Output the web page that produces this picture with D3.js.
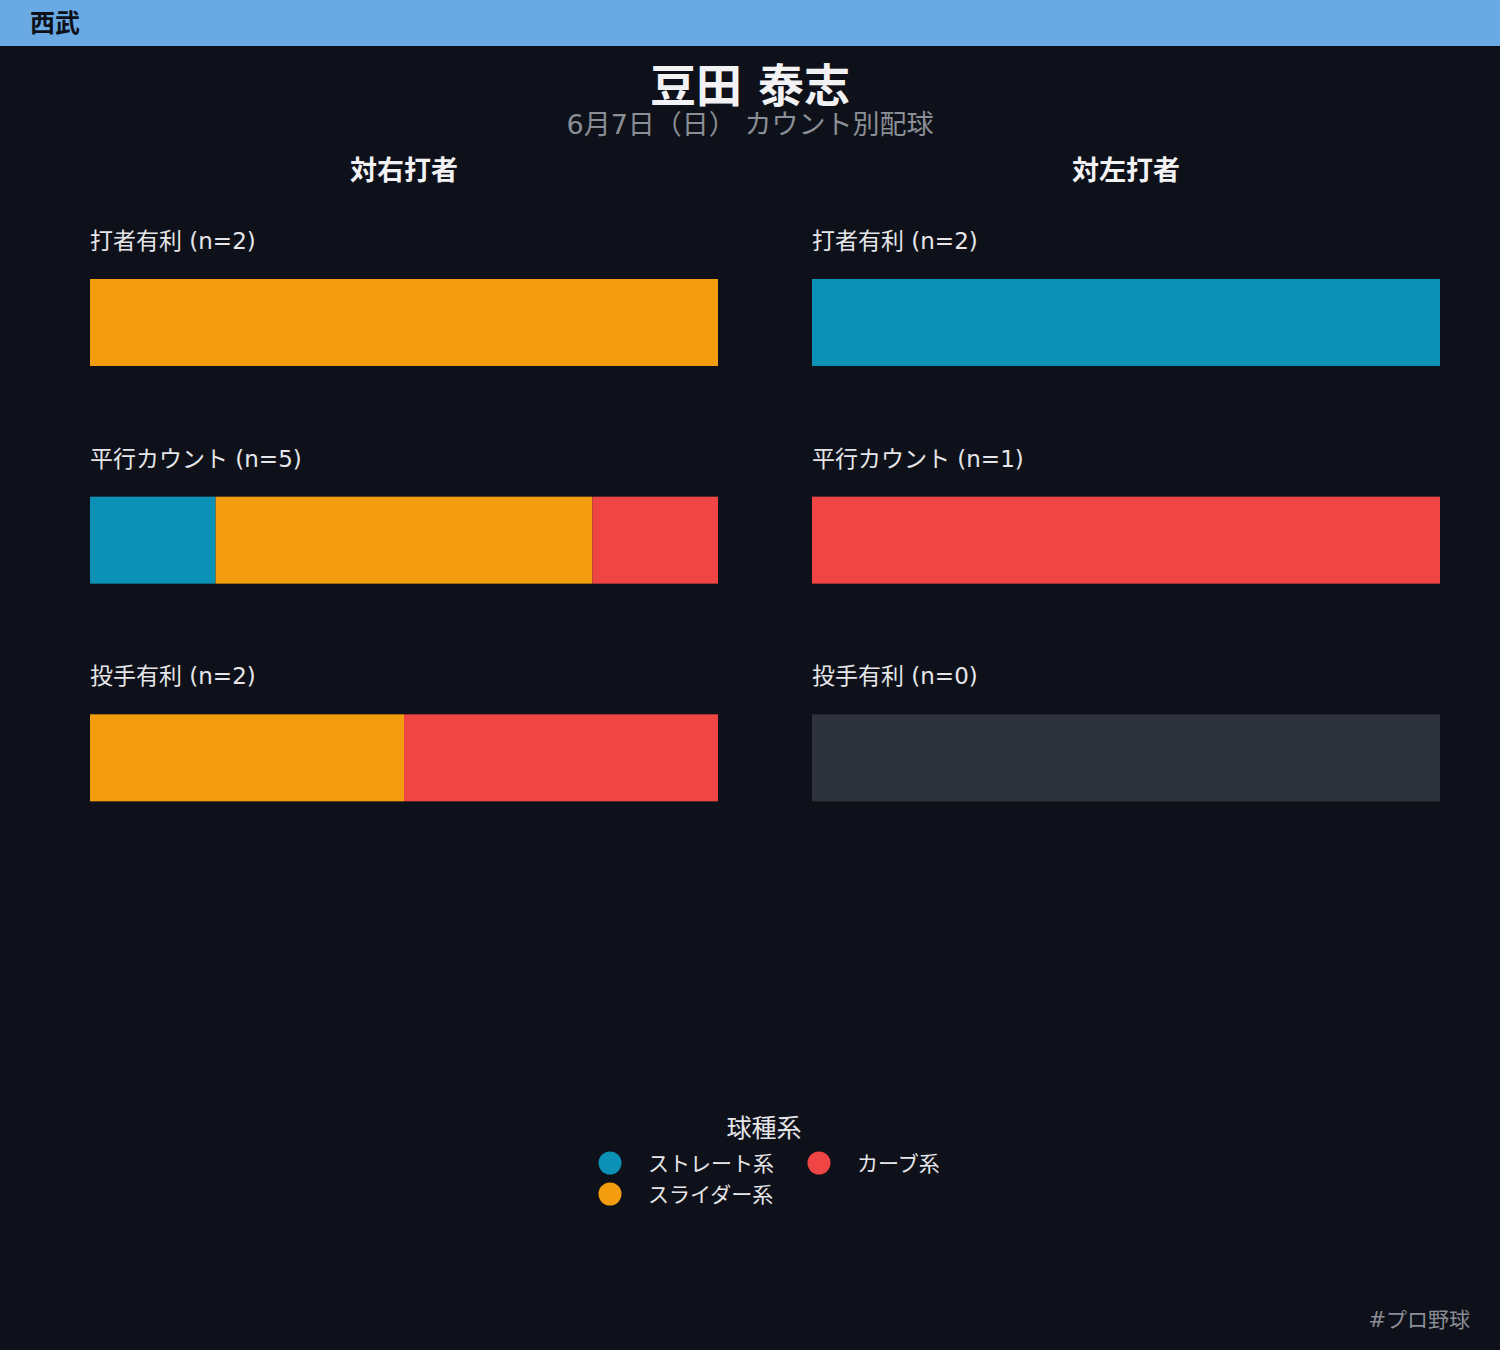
<!DOCTYPE html>
<html><head><meta charset="utf-8">
<script src="https://cdn.jsdelivr.net/npm/d3@7"></script>
<style>
html,body{margin:0;padding:0;background:#0e1119;}
svg{display:block;font-family:"DejaVu Sans","Noto Sans CJK JP",sans-serif;}
</style></head>
<body>
<script>
const team = "西武";
const pitcher = "豆田 泰志";
const subtitle = "6月7日（日） カウント別配球";
const panels = ["対右打者", "対左打者"];
const countLabels = ["打者有利", "平行カウント", "投手有利"];
const pitchTypes = ["ストレート系", "スライダー系", "カーブ系"];
const pitchColors = ["#0a91b5", "#f39c0e", "#ef4545"];
// counts per pitch type [straight, slider, curve] per situation
const vsRight = [[0, 2, 0], [1, 3, 1], [0, 1, 1]];
const vsLeft = [[2, 0, 0], [0, 0, 1], [0, 0, 0]];
const legendTitle = "球種系";
const footer = "#プロ野球";

const W = 1500, H = 1350;
const svg = d3.select("body").append("svg").attr("width", W).attr("height", H);
svg.append("rect").attr("width", W).attr("height", H).attr("fill", "#0e1119");
svg.append("rect").attr("width", W).attr("height", 46).attr("fill", "#6aaae4");
svg.append("text").attr("x", 30).attr("y", 32).attr("font-size", 25).attr("font-weight", "bold")
  .attr("fill", "#0e1119").text(team);

svg.append("text").attr("x", 750).attr("y", 102).attr("text-anchor", "middle")
  .attr("font-size", 46).attr("font-weight", "bold").attr("fill", "#f2f2f5").text(pitcher);
svg.append("text").attr("x", 750).attr("y", 134).attr("text-anchor", "middle")
  .attr("font-size", 27).attr("fill", "#8a8e96").text(subtitle);

const panelX = [[90, 718], [812, 1440]];
const data = [vsRight, vsLeft];
const yBand = d3.scaleBand().domain(countLabels).range([214, 867]).paddingInner(0).paddingOuter(0);

panels.forEach((p, pi) => {
  const [x0, x1] = panelX[pi];
  svg.append("text").attr("x", (x0 + x1) / 2).attr("y", 180).attr("text-anchor", "middle")
    .attr("font-size", 27).attr("font-weight", "bold").attr("fill", "#f2f2f5").text(p);
  data[pi].forEach((row, ri) => {
    const n = d3.sum(row);
    const by = yBand(countLabels[ri]);
    svg.append("text").attr("x", x0).attr("y", by + 35).attr("font-size", 23)
      .attr("fill", "#e6e6ea").text(`${countLabels[ri]} (n=${n})`);
    const barY = by + 65, barH = 87;
    if (n === 0) {
      svg.append("rect").attr("x", x0).attr("y", barY).attr("width", x1 - x0).attr("height", barH)
        .attr("fill", "#2e333b");
      return;
    }
    const xs = d3.scaleLinear().domain([0, n]).range([x0, x1]);
    let cum = 0;
    row.forEach((v, ti) => {
      if (v > 0) {
        svg.append("rect").attr("x", xs(cum)).attr("y", barY)
          .attr("width", xs(cum + v) - xs(cum)).attr("height", barH).attr("fill", pitchColors[ti]);
      }
      cum += v;
    });
  });
});

// legend
svg.append("text").attr("x", 764).attr("y", 1137).attr("text-anchor", "middle")
  .attr("font-size", 25).attr("fill", "#e6e6ea").text(legendTitle);
const legPos = [[610, 1163], [610, 1194], [819, 1163]];
pitchTypes.forEach((t, i) => {
  const [cx, cy] = legPos[i];
  svg.append("circle").attr("cx", cx).attr("cy", cy).attr("r", 11.5).attr("fill", pitchColors[i]);
  svg.append("text").attr("x", cx + 38).attr("y", cy + 8).attr("font-size", 21)
    .attr("fill", "#e6e6ea").text(t);
});

svg.append("text").attr("x", 1470).attr("y", 1327).attr("text-anchor", "end")
  .attr("font-size", 21).attr("fill", "#8a8e96").text(footer);
</script>
</body></html>
